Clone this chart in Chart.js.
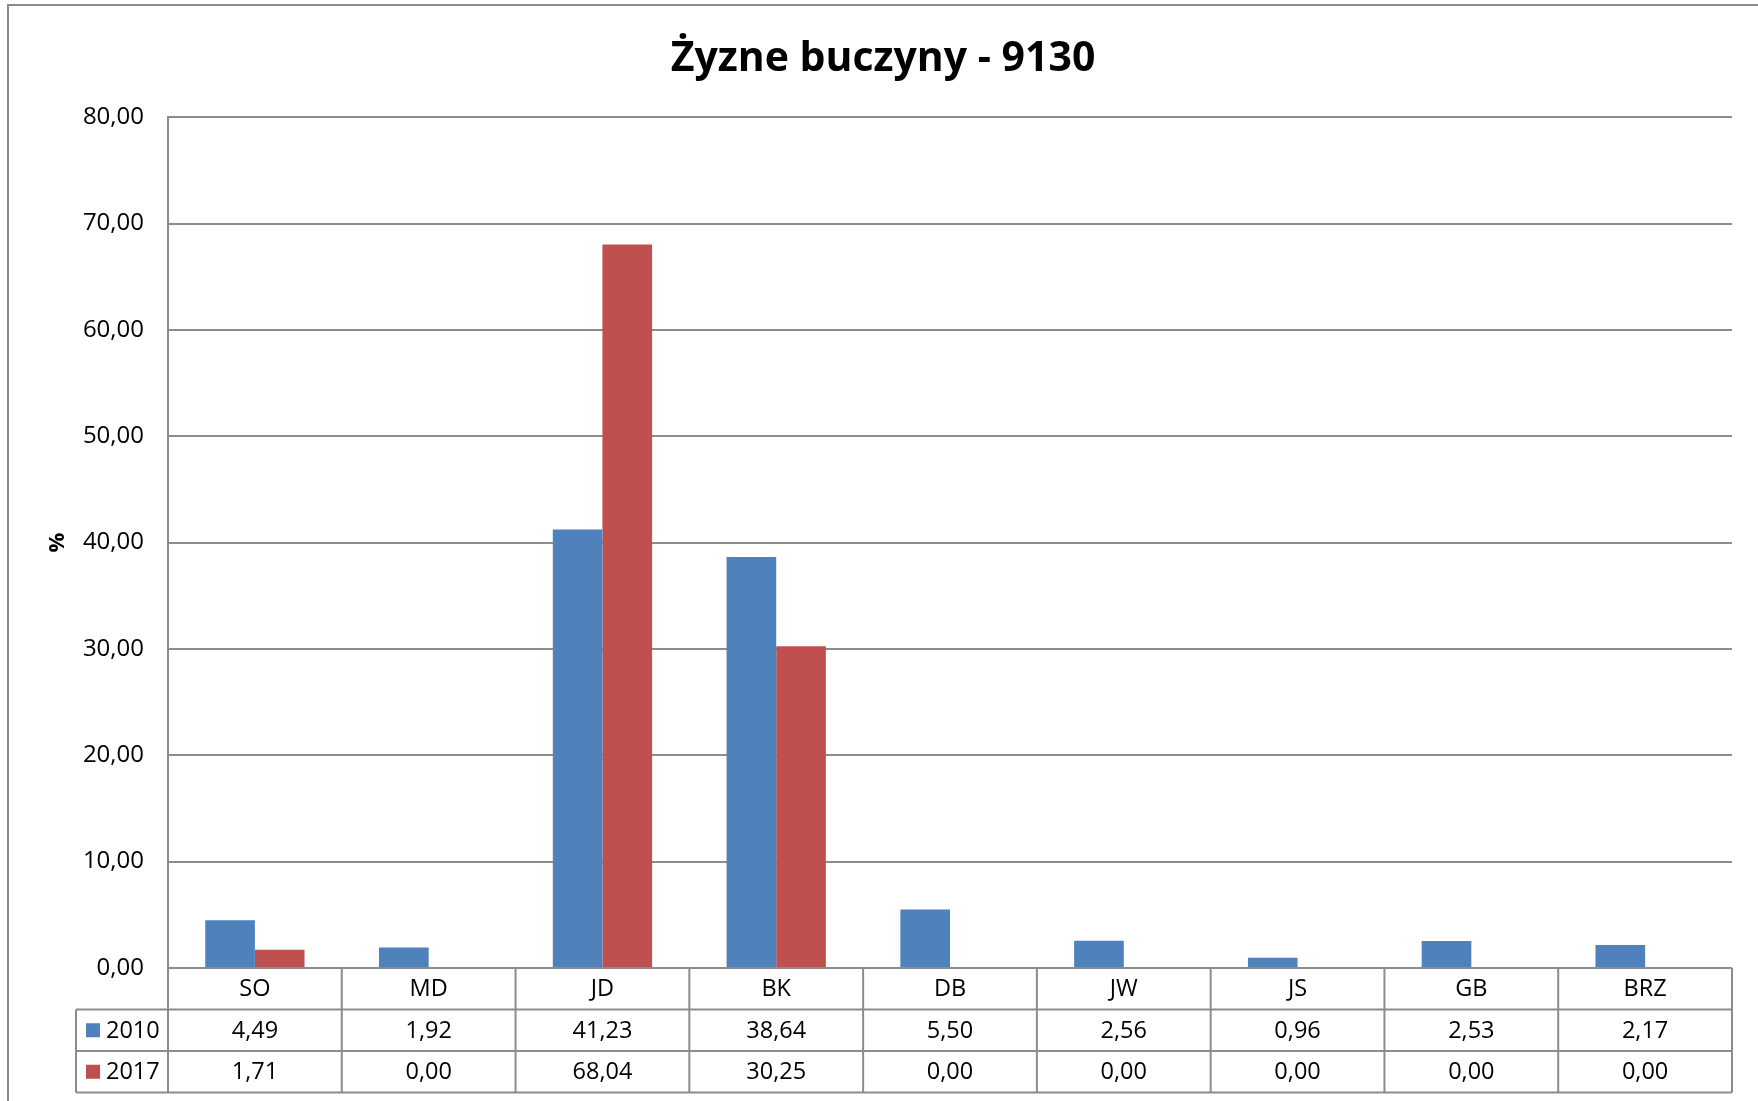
<!DOCTYPE html>
<html lang="pl">
<head>
<meta charset="utf-8">
<title>Żyzne buczyny - 9130</title>
<script src="https://cdn.jsdelivr.net/npm/chart.js@4.4.1/dist/chart.umd.min.js"></script>
<style>
  html, body { margin: 0; padding: 0; background: #ffffff; }
  #wrap { position: relative; width: 1758px; height: 1101px; }
</style>
</head>
<body>
<div id="wrap"><canvas id="chart"></canvas></div>
<script>
// Gatunki drzew (kategorie) i udziały procentowe w latach 2010 i 2017
const categories = ['SO', 'MD', 'JD', 'BK', 'DB', 'JW', 'JS', 'GB', 'BRZ'];
const years = ['2010', '2017'];
const values2010 = [4.49, 1.92, 41.23, 38.64, 5.50, 2.56, 0.96, 2.53, 2.17];
const values2017 = [1.71, 0.00, 68.04, 30.25, 0.00, 0.00, 0.00, 0.00, 0.00];
const yTicks = [0, 10, 20, 30, 40, 50, 60, 70, 80];

const FONT = "'Open Sans', 'Noto Sans', sans-serif";
const GRID = '#8c8c8c';
const COLORS = ['#4f81bd', '#c0504d'];

const fmt = v => v.toFixed(2).replace('.', ',');

// Ramka wykresu (lewa i górna krawędź)
const framePlugin = {
  id: 'frame',
  beforeDraw(chart) {
    const ctx = chart.ctx;
    ctx.save();
    ctx.strokeStyle = '#8a8a8a';
    ctx.lineWidth = 2;
    ctx.beginPath();
    ctx.moveTo(8, 1101);
    ctx.lineTo(8, 5);
    ctx.lineTo(1758, 5);
    ctx.stroke();
    ctx.restore();
  }
};

// Tabela danych pod osią X: nazwy kategorii, klucze legendy i wartości
const dataTablePlugin = {
  id: 'dataTable',
  afterDraw(chart) {
    const ctx = chart.ctx;
    const x = chart.scales.x;
    const area = chart.chartArea;
    const n = categories.length;
    const colW = (area.right - area.left) / n;
    const rowH = 41.5;
    const top = area.bottom;
    const legendLeft = 76;
    const rows = [values2010, values2017];

    ctx.save();
    ctx.strokeStyle = GRID;
    ctx.lineWidth = 2;

    // linie poziome
    ctx.beginPath();
    ctx.moveTo(legendLeft, top + rowH);
    ctx.lineTo(area.right, top + rowH);
    for (let r = 2; r <= 3; r++) {
      ctx.moveTo(legendLeft, top + r * rowH);
      ctx.lineTo(area.right, top + r * rowH);
    }
    // linie pionowe
    for (let i = 0; i <= n; i++) {
      const cx = area.left + i * colW;
      ctx.moveTo(cx, top);
      ctx.lineTo(cx, top + 3 * rowH);
    }
    ctx.moveTo(legendLeft, top + rowH);
    ctx.lineTo(legendLeft, top + 3 * rowH);
    ctx.stroke();

    ctx.fillStyle = '#000000';
    ctx.font = `23.5px ${FONT}`;
    ctx.textAlign = 'center';
    ctx.textBaseline = 'middle';
    categories.forEach((c, i) => {
      const cx = x.getPixelForValue(i);
      ctx.fillText(c, cx, top + rowH * 0.5 + 1);
      rows.forEach((vals, r) => {
        ctx.fillText(fmt(vals[i]), cx, top + rowH * (1.5 + r) + 1);
      });
    });

    // klucze legendy
    years.forEach((y, r) => {
      const cy = top + rowH * (1.5 + r);
      ctx.fillStyle = COLORS[r];
      ctx.fillRect(86, cy - 7, 14, 14);
      ctx.fillStyle = '#000000';
      ctx.textAlign = 'left';
      ctx.fillText(y, 106, cy + 1);
    });
    ctx.restore();
  }
};

const ctx = document.getElementById('chart');
new Chart(ctx, {
  type: 'bar',
  data: {
    labels: categories,
    datasets: [
      { label: years[0], data: values2010, backgroundColor: COLORS[0], borderWidth: 0, yAxisID: 'y' },
      { label: years[1], data: values2017, backgroundColor: COLORS[1], borderWidth: 0, yAxisID: 'y' }
    ]
  },
  options: {
    responsive: true,
    maintainAspectRatio: false,
    animation: false,
    devicePixelRatio: 1,
    layout: { padding: { left: 8, right: 0, top: 0, bottom: 133 } },
    datasets: { bar: { categoryPercentage: 2 / 3.5, barPercentage: 1.0 } },
    plugins: {
      legend: { display: false },
      tooltip: { enabled: false },
      title: {
        display: true,
        text: 'Żyzne buczyny - 9130',
        color: '#000000',
        font: { family: FONT, size: 41, weight: 'bold', lineHeight: 1.2 },
        padding: { top: 35, bottom: 33 }
      }
    },
    scales: {
      x: {
        display: false,
        offset: true
      },
      y: {
        position: 'left',
        min: 0,
        max: 80,
        afterFit(scale) { scale.width = 160; },
        afterBuildTicks(scale) { scale.ticks = yTicks.map(v => ({ value: v })); },
        grid: { color: GRID, lineWidth: 2, drawTicks: false },
        border: { display: true, color: GRID, width: 2 },
        ticks: {
          color: '#000000',
          font: { family: FONT, size: 24 },
          padding: 24,
          callback: v => fmt(v)
        },
        title: {
          display: true,
          text: '%',
          color: '#000000',
          font: { family: FONT, size: 22, weight: 'bold' },
          padding: { top: 37, bottom: 0 }
        }
      },
      // pusty margines po prawej stronie obszaru wykresu
      yRight: {
        position: 'right',
        display: true,
        min: 0,
        max: 80,
        afterFit(scale) { scale.width = 26; },
        grid: { display: false, drawOnChartArea: false },
        border: { display: false },
        ticks: { display: false }
      }
    }
  },
  plugins: [framePlugin, dataTablePlugin]
});
</script>
</body>
</html>
